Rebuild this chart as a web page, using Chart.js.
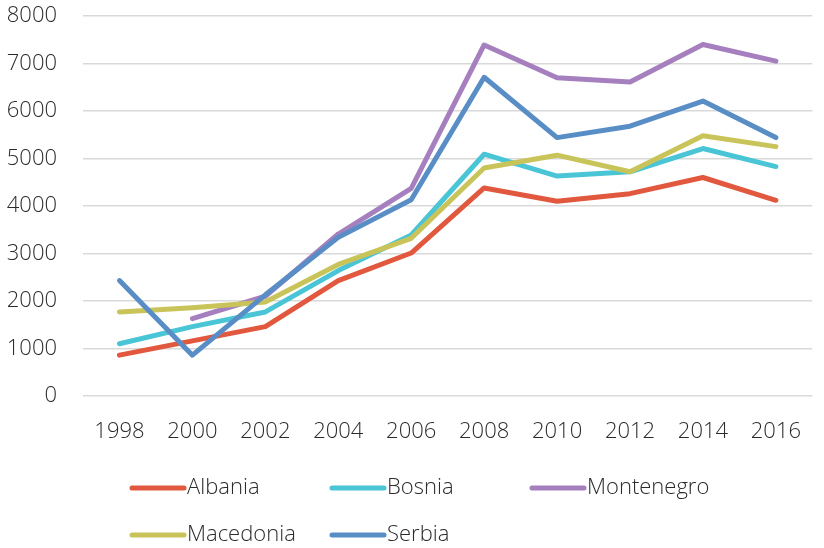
<!DOCTYPE html>
<html>
<head>
<meta charset="utf-8">
<script src="https://cdn.jsdelivr.net/npm/chart.js@4.4.0/dist/chart.umd.min.js"></script>
<style>
    html, body { margin: 0; padding: 0; background: #fff; }
    #wrap { width: 824px; height: 548px; position: relative; }
</style>
</head>
<body>
<div id="wrap"><canvas id="lineChart"></canvas></div>
<script>
var years = ['1998', '2000', '2002', '2004', '2006', '2008', '2010', '2012', '2014', '2016'];
var yTicks = [0, 1000, 2000, 3000, 4000, 5000, 6000, 7000, 8000];
var names = ['Albania', 'Bosnia', 'Montenegro', 'Macedonia', 'Serbia'];

var albania    = [860, 1160, 1460, 2430, 3010, 4380, 4100, 4260, 4600, 4120];
var bosnia     = [1100, 1460, 1770, 2640, 3390, 5090, 4630, 4720, 5210, 4830];
var montenegro = [null, 1630, 2100, 3410, 4370, 7390, 6700, 6610, 7400, 7050];
var macedonia  = [1770, 1860, 1980, 2770, 3320, 4800, 5070, 4720, 5480, 5250];
var serbia     = [2430, 860, 2130, 3340, 4130, 6710, 5440, 5680, 6210, 5440];

var colors = ['#e2583e', '#4ac5d6', '#a67fbe', '#c9c45a', '#598dc6'];
var fontFamily = '"Open Sans", sans-serif';
var textColor = '#2b2b2b';

// legend laid out in fixed columns like the original
var gridLegend = {
    id: 'gridLegend',
    afterDraw: function(chart){
        var ctx = chart.ctx;
        var cols = [130, 330, 530];
        var rows = [488, 535];
        ctx.save();
        ctx.font = '300 22px ' + fontFamily;
        ctx.textBaseline = 'middle';
        ctx.fillStyle = textColor;
        ctx.lineCap = 'round';
        ctx.lineWidth = 5;
        for(var i = 0 ; i < names.length ; i++){
            var x = cols[i % 3];
            var y = rows[Math.floor(i / 3)];
            ctx.strokeStyle = colors[i];
            ctx.beginPath();
            ctx.moveTo(x + 2, y);
            ctx.lineTo(x + 54, y);
            ctx.stroke();
            ctx.fillText(names[i], x + 57, y);
        }
        ctx.restore();
    }
};

function lineChart(){
    var series = [albania, bosnia, montenegro, macedonia, serbia];
    var datasets = [];
    for(var i = 0 ; i < series.length ; i++){
        datasets.push({
            label: names[i],
            data: series[i],
            borderColor: colors[i],
            backgroundColor: colors[i],
            borderWidth: 5,
            borderCapStyle: 'round',
            borderJoinStyle: 'round',
            pointRadius: 0,
            tension: 0,
            order: series.length - 1 - i
        });
    }
    var ctx = document.getElementById('lineChart').getContext('2d');
    var chart = new Chart(ctx, {
        type: 'line',
        data: {
            labels: years,
            datasets: datasets
        },
        options: {
            responsive: true,
            maintainAspectRatio: false,
            animation: false,
            layout: {
                padding: { left: 0, right: 0, top: 16, bottom: 92 }
            },
            plugins: {
                legend: { display: false },
                tooltip: { enabled: false }
            },
            scales: {
                x: {
                    offset: true,
                    grid: { display: false, drawTicks: false },
                    border: { display: false },
                    ticks: {
                        color: textColor,
                        padding: 23,
                        maxRotation: 0,
                        font: { family: fontFamily, size: 22, weight: '300' }
                    },
                    afterFit: function(scale){ scale.height = 60; }
                },
                y: {
                    min: 0,
                    max: 8000,
                    afterBuildTicks: function(scale){
                        scale.ticks = yTicks.map(function(v){ return { value: v }; });
                    },
                    grid: { color: '#d9d9d9', lineWidth: 1.5, drawTicks: false },
                    border: { display: false },
                    ticks: {
                        color: textColor,
                        padding: 26,
                        callback: function(v){ return String(v); },
                        font: { family: fontFamily, size: 22, weight: '300' }
                    },
                    afterFit: function(scale){
                        scale.width = 83;
                        scale.paddingTop = 0;
                        scale.paddingBottom = 0;
                    }
                }
            }
        },
        plugins: [gridLegend]
    });
}

lineChart();
</script>
</body>
</html>
